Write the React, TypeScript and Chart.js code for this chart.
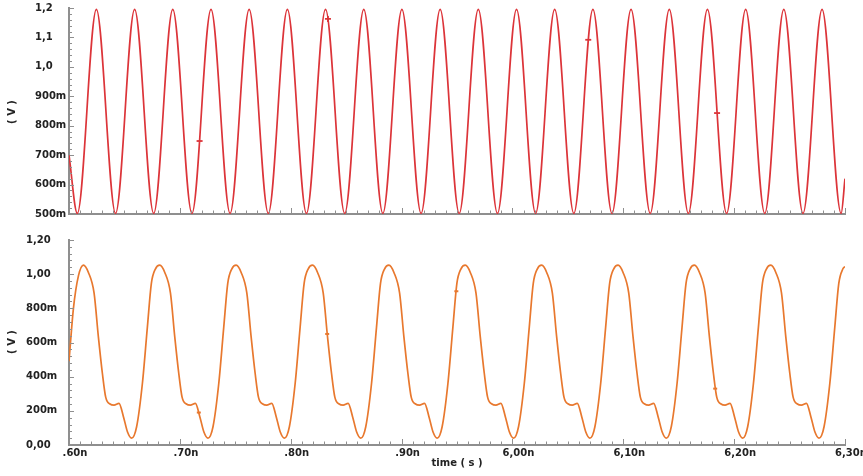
import React, { useEffect, useRef } from "react";
import { Chart, registerables } from "chart.js";

Chart.register(...registerables);

// ---- axis ticks ----
const xTickValues = [5.6, 5.7, 5.8, 5.9, 6.0, 6.1, 6.2, 6.3];
const xTickLabels = [".60n", ".70n", ".80n", ".90n", "6,00n", "6,10n", "6,20n", "6,30n"];

const topTickValues = [0.5, 0.6, 0.7, 0.8, 0.9, 1.0, 1.1, 1.2];
const topTickLabels = ["500m", "600m", "700m", "800m", "900m", "1,0", "1,1", "1,2"];

const bottomTickValues = [0, 0.2, 0.4, 0.6, 0.8, 1.0, 1.2];
const bottomTickLabels = ["0,00", "200m", "400m", "600m", "800m", "1,00", "1,20"];

// ---- top signal (time in ns, volts): extrema ----
const topTimes = [
  5.6, 5.6075, 5.6247, 5.642, 5.6592, 5.6764, 5.6936, 5.7109, 5.7281, 5.7453, 5.7625,
  5.7798, 5.797, 5.8142, 5.8314, 5.8487, 5.8659, 5.8831, 5.9003, 5.9176, 5.9348,
  5.952, 5.9692, 5.9865, 6.0037, 6.0209, 6.0381, 6.0554, 6.0726, 6.0898, 6.107,
  6.1243, 6.1415, 6.1587, 6.1759, 6.1932, 6.2104, 6.2276, 6.2448, 6.2621, 6.2793,
  6.2965, 6.3,
];
const topVolts = [
  0.7, 0.502, 1.195, 0.502, 1.195, 0.502, 1.195, 0.502, 1.195, 0.502, 1.195,
  0.502, 1.195, 0.502, 1.195, 0.502, 1.195, 0.502, 1.195, 0.502, 1.195,
  0.502, 1.195, 0.502, 1.195, 0.502, 1.195, 0.502, 1.195, 0.502, 1.195,
  0.502, 1.195, 0.502, 1.195, 0.502, 1.195, 0.502, 1.195, 0.502, 1.195,
  0.502, 0.62,
];
const topMarkerTimes = [5.7178, 5.8336, 6.0684, 6.1846];
const topMarkerVolts = [0.748, 1.163, 1.092, 0.843];

// ---- bottom signal ----
const bottomTimes = [
  5.6, 5.604, 5.6085,
  5.613, 5.6175, 5.6226, 5.6265, 5.6301, 5.6331, 5.637, 5.6406, 5.6451, 5.6491, 5.6527, 5.6565, 5.661, 5.6662, 5.6707, 5.6743, 5.6779,
  5.6819, 5.6864, 5.6915, 5.6954, 5.699, 5.702, 5.7059, 5.7095, 5.714, 5.718, 5.7216, 5.7254, 5.7299, 5.7351, 5.7396, 5.7432, 5.7468,
  5.7508, 5.7553, 5.7604, 5.7643, 5.7679, 5.7709, 5.7748, 5.7784, 5.7829, 5.7869, 5.7905, 5.7943, 5.7988, 5.804, 5.8085, 5.8121, 5.8157,
  5.8197, 5.8242, 5.8293, 5.8332, 5.8368, 5.8398, 5.8437, 5.8473, 5.8518, 5.8558, 5.8594, 5.8632, 5.8677, 5.8729, 5.8774, 5.881, 5.8846,
  5.8886, 5.8931, 5.8982, 5.9021, 5.9057, 5.9087, 5.9126, 5.9162, 5.9207, 5.9247, 5.9283, 5.9321, 5.9366, 5.9418, 5.9463, 5.9499, 5.9535,
  5.9575, 5.962, 5.9671, 5.971, 5.9746, 5.9776, 5.9815, 5.9851, 5.9896, 5.9936, 5.9972, 6.001, 6.0055, 6.0107, 6.0152, 6.0188, 6.0224,
  6.0264, 6.0309, 6.036, 6.0399, 6.0435, 6.0465, 6.0504, 6.054, 6.0585, 6.0625, 6.0661, 6.0699, 6.0744, 6.0796, 6.0841, 6.0877, 6.0913,
  6.0953, 6.0998, 6.1049, 6.1088, 6.1124, 6.1154, 6.1193, 6.1229, 6.1274, 6.1314, 6.135, 6.1388, 6.1433, 6.1485, 6.153, 6.1566, 6.1602,
  6.1642, 6.1687, 6.1738, 6.1777, 6.1813, 6.1843, 6.1882, 6.1918, 6.1963, 6.2003, 6.2039, 6.2077, 6.2122, 6.2174, 6.2219, 6.2255, 6.2291,
  6.2331, 6.2376, 6.2427, 6.2466, 6.2502, 6.2532, 6.2571, 6.2607, 6.2652, 6.2692, 6.2728, 6.2766, 6.2811, 6.2863, 6.2908, 6.2944, 6.298,
  6.3,
];
const bottomVolts = [
  0.49, 0.8, 0.99,
  1.053, 1.01, 0.89, 0.633, 0.42, 0.28, 0.24, 0.234, 0.244, 0.166, 0.078, 0.04, 0.107, 0.36, 0.69, 0.946, 1.03,
  1.053, 1.01, 0.89, 0.633, 0.42, 0.28, 0.24, 0.234, 0.244, 0.166, 0.078, 0.04, 0.107, 0.36, 0.69, 0.946, 1.03,
  1.053, 1.01, 0.89, 0.633, 0.42, 0.28, 0.24, 0.234, 0.244, 0.166, 0.078, 0.04, 0.107, 0.36, 0.69, 0.946, 1.03,
  1.053, 1.01, 0.89, 0.633, 0.42, 0.28, 0.24, 0.234, 0.244, 0.166, 0.078, 0.04, 0.107, 0.36, 0.69, 0.946, 1.03,
  1.053, 1.01, 0.89, 0.633, 0.42, 0.28, 0.24, 0.234, 0.244, 0.166, 0.078, 0.04, 0.107, 0.36, 0.69, 0.946, 1.03,
  1.053, 1.01, 0.89, 0.633, 0.42, 0.28, 0.24, 0.234, 0.244, 0.166, 0.078, 0.04, 0.107, 0.36, 0.69, 0.946, 1.03,
  1.053, 1.01, 0.89, 0.633, 0.42, 0.28, 0.24, 0.234, 0.244, 0.166, 0.078, 0.04, 0.107, 0.36, 0.69, 0.946, 1.03,
  1.053, 1.01, 0.89, 0.633, 0.42, 0.28, 0.24, 0.234, 0.244, 0.166, 0.078, 0.04, 0.107, 0.36, 0.69, 0.946, 1.03,
  1.053, 1.01, 0.89, 0.633, 0.42, 0.28, 0.24, 0.234, 0.244, 0.166, 0.078, 0.04, 0.107, 0.36, 0.69, 0.946, 1.03,
  1.053, 1.01, 0.89, 0.633, 0.42, 0.28, 0.24, 0.234, 0.244, 0.166, 0.078, 0.04, 0.107, 0.36, 0.69, 0.946, 1.03,
  1.045,
];
const bottomMarkerTimes = [5.7171, 5.8329, 5.9494, 6.1829];
const bottomMarkerVolts = [0.19, 0.65, 0.9, 0.33];

const RED = "#dc3439";
const ORANGE = "#e8782e";
const AXIS = "#8f8f8f";
const TEXT = "#222222";
const FONT = { family: "'DejaVu Sans', sans-serif", size: 10, weight: "bold" as const };

const lookup = (values: number[], labels: string[]) => (v: number | string) => {
  const n = Number(v);
  const i = values.findIndex((t) => Math.abs(t - n) < 1e-6);
  return i >= 0 ? labels[i] : "";
};

const setTicks = (values: number[]) => (scale: any) => {
  scale.ticks = values.map((v) => ({ value: v }));
};

const pts = (xs: number[], ys: number[]) => xs.map((x, i) => ({ x, y: ys[i] }));

const makeDecor = (yMajors: number[], titleY: number) => ({
  id: "decor",
  afterDraw(chart: any) {
    const { ctx, chartArea } = chart;
    const xs = chart.scales.x;
    const ys = chart.scales.y;
    ctx.save();
    ctx.strokeStyle = AXIS;
    ctx.lineWidth = 1;
    ctx.beginPath();
    const b = chartArea.bottom - 1;
    for (let i = 0; i < xTickValues.length; i++) {
      const px = Math.round(xs.getPixelForValue(xTickValues[i])) + 0.5;
      ctx.moveTo(px, b);
      ctx.lineTo(px, b - 5);
      if (i < xTickValues.length - 1) {
        const a = xTickValues[i];
        const c = xTickValues[i + 1];
        for (let j = 1; j < 10; j++) {
          const mx = Math.round(xs.getPixelForValue(a + ((c - a) * j) / 10)) + 0.5;
          ctx.moveTo(mx, b);
          ctx.lineTo(mx, b - 2.5);
        }
      }
    }
    const l = chartArea.left + 1;
    for (let i = 0; i < yMajors.length; i++) {
      const py = Math.round(ys.getPixelForValue(yMajors[i])) + 0.5;
      ctx.moveTo(l, py);
      ctx.lineTo(l + 4, py);
      if (i < yMajors.length - 1) {
        const a = yMajors[i];
        const c = yMajors[i + 1];
        for (let j = 1; j < 5; j++) {
          const my = Math.round(ys.getPixelForValue(a + ((c - a) * j) / 5)) + 0.5;
          ctx.moveTo(l, my);
          ctx.lineTo(l + 2, my);
        }
      }
    }
    ctx.stroke();
    ctx.fillStyle = TEXT;
    ctx.font = "bold 10px 'DejaVu Sans', sans-serif";
    ctx.textAlign = "center";
    ctx.textBaseline = "middle";
    ctx.translate(12, titleY);
    ctx.rotate(-Math.PI / 2);
    ctx.fillText("( V )", 0, 0);
    ctx.restore();
  },
});

function TopChart() {
  const ref = useRef<HTMLCanvasElement | null>(null);
  useEffect(() => {
    if (!ref.current) return;
    const chart = new Chart(ref.current, {
      type: "line",
      data: {
        datasets: [
          {
            data: pts(topTimes, topVolts),
            borderColor: RED,
            borderWidth: 1.7,
            pointRadius: 0,
            cubicInterpolationMode: "monotone",
            fill: false,
          },
          {
            data: pts(topMarkerTimes, topMarkerVolts),
            showLine: false,
            pointStyle: ["line", "cross", "line", "line"],
            pointRadius: 3,
            borderColor: RED,
            backgroundColor: RED,
            borderWidth: 1.8,
          },
        ],
      } as any,
      options: {
        responsive: false,
        animation: false,
        events: [],
        plugins: { legend: { display: false }, tooltip: { enabled: false } },
        layout: { padding: { left: 35, right: 18, top: 8, bottom: 14 } },
        scales: {
          x: {
            type: "linear",
            min: 5.6,
            max: 6.3,
            afterBuildTicks: setTicks(xTickValues),
            ticks: { display: false },
            grid: { display: false, drawTicks: false },
            border: { display: true, color: AXIS, width: 2 },
            afterFit: (s: any) => {
              s.height = 0;
            },
          },
          y: {
            type: "linear",
            min: 0.5,
            max: 1.2,
            afterBuildTicks: setTicks(topTickValues),
            ticks: {
              callback: lookup(topTickValues, topTickLabels),
              crossAlign: "far",
              padding: 0,
              color: TEXT,
              font: FONT,
            },
            grid: { display: false, drawTicks: false },
            border: { display: true, color: AXIS, width: 2 },
            afterFit: (s: any) => {
              s.width = 34;
            },
          },
        },
      } as any,
      plugins: [makeDecor(topTickValues, 112)],
    });
    return () => chart.destroy();
  }, []);
  return <canvas ref={ref} width={863} height={228} style={{ display: "block" }} />;
}

function BottomChart() {
  const ref = useRef<HTMLCanvasElement | null>(null);
  useEffect(() => {
    if (!ref.current) return;
    const chart = new Chart(ref.current, {
      type: "line",
      data: {
        datasets: [
          {
            data: pts(bottomTimes, bottomVolts),
            borderColor: ORANGE,
            borderWidth: 1.7,
            pointRadius: 0,
            cubicInterpolationMode: "monotone",
            fill: false,
          },
          {
            data: pts(bottomMarkerTimes, bottomMarkerVolts),
            showLine: false,
            pointStyle: "line",
            pointRadius: 2,
            borderColor: ORANGE,
            backgroundColor: ORANGE,
            borderWidth: 2,
          },
        ],
      } as any,
      options: {
        responsive: false,
        animation: false,
        events: [],
        plugins: { legend: { display: false }, tooltip: { enabled: false } },
        layout: { padding: { left: 26, right: 18, top: 12, bottom: 0 } },
        scales: {
          x: {
            type: "linear",
            min: 5.6,
            max: 6.3,
            afterBuildTicks: setTicks(xTickValues),
            ticks: {
              callback: lookup(xTickValues, xTickLabels),
              maxRotation: 0,
              autoSkip: false,
              labelOffset: 6,
              padding: 2,
              color: TEXT,
              font: FONT,
            },
            title: {
              display: true,
              text: "time ( s )",
              color: TEXT,
              font: FONT,
              padding: { top: 0, bottom: 7 },
            },
            grid: { display: false, drawTicks: false },
            border: { display: true, color: AXIS, width: 2 },
            afterFit: (s: any) => {
              s.height = 31;
            },
          },
          y: {
            type: "linear",
            min: 0,
            max: 1.2,
            afterBuildTicks: setTicks(bottomTickValues),
            ticks: {
              callback: lookup(bottomTickValues, bottomTickLabels),
              crossAlign: "far",
              padding: 0,
              color: TEXT,
              font: FONT,
            },
            grid: { display: false, drawTicks: false },
            border: { display: true, color: AXIS, width: 2 },
            afterFit: (s: any) => {
              s.width = 43;
            },
          },
        },
      } as any,
      plugins: [makeDecor(bottomTickValues, 114)],
    });
    return () => chart.destroy();
  }, []);
  return <canvas ref={ref} width={863} height={248} style={{ display: "block" }} />;
}

export default function App() {
  return (
    <div
      style={{
        position: "absolute",
        left: 0,
        top: 0,
        width: 863,
        height: 476,
        background: "#ffffff",
        overflow: "hidden",
      }}
    >
      <TopChart />
      <BottomChart />
    </div>
  );
}
